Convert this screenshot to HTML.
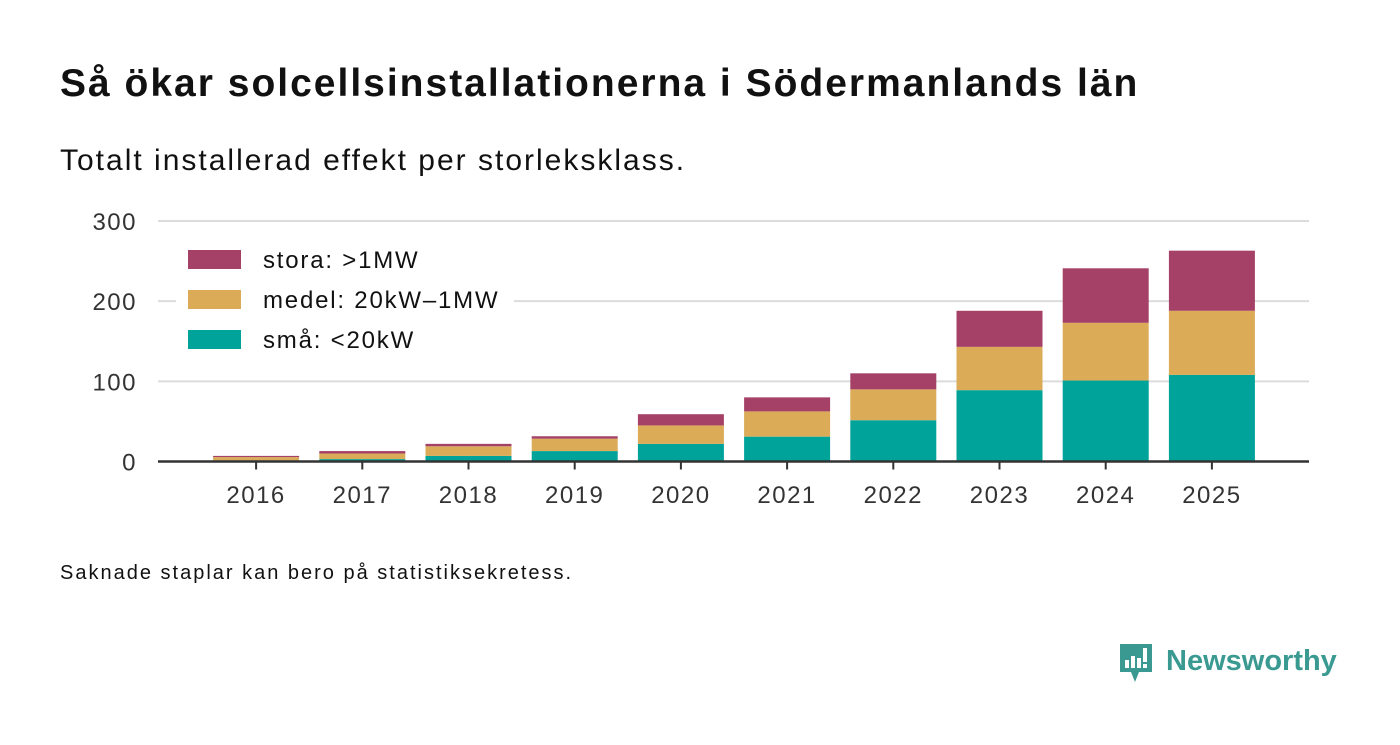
<!DOCTYPE html>
<html><head><meta charset="utf-8">
<style>
body{margin:0;background:#fff;width:1400px;height:745px;overflow:hidden;font-family:"Liberation Sans","DejaVu Sans",sans-serif;}
#title{position:absolute;left:60px;top:62px;font-size:39px;font-weight:bold;color:#111;margin:0;letter-spacing:2px;white-space:nowrap}
#sub{position:absolute;left:60px;top:144px;font-size:30px;color:#111;letter-spacing:2px;white-space:nowrap}
#note{position:absolute;left:60px;top:562px;font-size:20px;color:#111;letter-spacing:2px;white-space:nowrap}
#logo{position:absolute;left:1118px;top:642px}
svg text{font-family:"Liberation Sans","DejaVu Sans",sans-serif}
</style></head><body>
<h1 id="title">Så ökar solcellsinstallationerna i Södermanlands län</h1>
<div id="sub">Totalt installerad effekt per storleksklass.</div>
<svg id="chart" width="1400" height="745" style="position:absolute;left:0;top:0"></svg>
<div id="note">Saknade staplar kan bero på statistiksekretess.</div>
<svg id="logo" width="230" height="44" viewBox="0 0 230 44">
<path d="M2 2h32v28H21l-4 10-4-10H2z" fill="#3a9a92"/>
<rect x="7" y="18" width="4" height="8" fill="#fff"/><rect x="13" y="14" width="4" height="12" fill="#fff"/><rect x="19" y="16" width="4" height="10" fill="#fff"/><rect x="25" y="6" width="4" height="14" fill="#fff"/><rect x="25" y="22" width="4" height="4" fill="#fff"/>
<text x="48" y="28" font-size="29" font-weight="bold" fill="#3a9a92">Newsworthy</text>
</svg>
<script>
const years=["2016","2017","2018","2019","2020","2021","2022","2023","2024","2025"];
const sma=[1.5,3,7,13,22,31,51.5,89,101,108];
const medel=[4,7,12,15.5,23,31.5,38.5,54,72,80];
const stora=[1.5,3,3,3,14,17.5,20,45,68,75];
const yTicks=[0,100,200,300];
const svg=document.getElementById('chart');
const NS='http://www.w3.org/2000/svg';
const x0=158,x1=1309,y0=461.5,yTop=221,yMax=300;
const y=v=>y0-(v/yMax)*(y0-yTop);
const bandStart=203,step=106.2;
const xc=i=>bandStart+step*(i+0.5);
const bw=86;
function mk(t,a){const e=document.createElementNS(NS,t);for(const k in a)e.setAttribute(k,a[k]);svg.appendChild(e);return e;}
yTicks.forEach(v=>{
 if(v>0){const g=mk('line',{x1:x0,x2:x1,y1:y(v),y2:y(v),stroke:'#dcdcdc','stroke-width':2});
 
 }
 const t=mk('text',{x:137,y:y(v)+9,'text-anchor':'end','font-size':24,fill:'#333','letter-spacing':1.5});t.textContent=v;
 
 
});
const series=[[sma,'#00a39a','sma'],[medel,'#dbab58','medel'],[stora,'#a54166','stora']];
years.forEach((yr,i)=>{
 let acc=0;
 series.forEach(([arr,col,n])=>{
  const r=mk('rect',{x:xc(i)-bw/2,y:y(acc+arr[i]),width:bw,height:y(acc)-y(acc+arr[i]),fill:col});
  
  
  acc+=arr[i];
 });
 const tk=mk('line',{x1:xc(i),x2:xc(i),y1:y0,y2:y0+8,stroke:'#333','stroke-width':2});
 
 
 const t=mk('text',{x:xc(i),y:503,'text-anchor':'middle','font-size':24,fill:'#333','letter-spacing':1.5});t.textContent=yr;
 
 
});
const ax=mk('line',{x1:x0,x2:x1,y1:y0,y2:y0,stroke:'#333','stroke-width':2.5});


const lb=mk('rect',{x:176,y:238,width:338,height:124,fill:'#fff'});


const leg=[['#a54166','stora: >1MW'],['#dbab58','medel: 20kW–1MW'],['#00a39a','små: <20kW']];
leg.forEach(([c,l],k)=>{
 const r=mk('rect',{x:188,y:250+k*40,width:53,height:19,fill:c});
 
 
 const t=mk('text',{x:263,y:268+k*40,'font-size':24,fill:'#111','letter-spacing':1.8});t.textContent=l;
 
 
});
</script>
</body></html>
